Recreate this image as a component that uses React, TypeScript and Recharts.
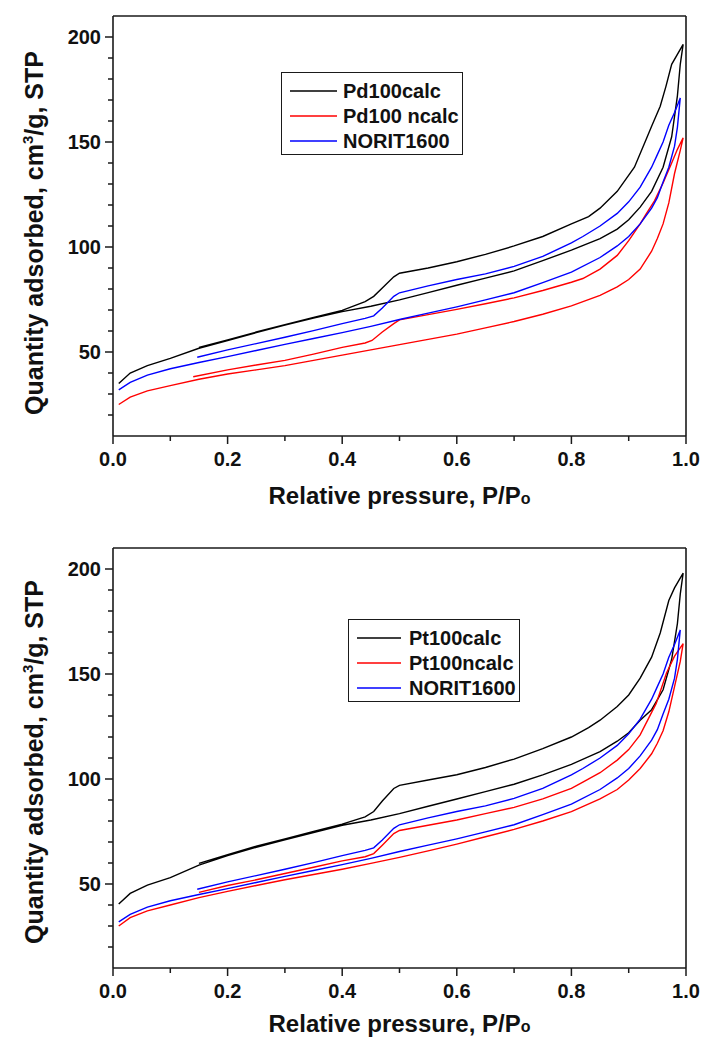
import React from 'react';
import { LineChart, Line, XAxis, YAxis, Legend, ReferenceLine } from 'recharts';

type Pt = [number, number];

// P/Po tick positions and quantity ticks
const pressureTicks = [0, 0.1, 0.2, 0.3, 0.4, 0.5, 0.6, 0.7, 0.8, 0.9, 1.0];
const quantityTicks = [20, 30, 40, 50, 60, 70, 80, 90, 100, 110, 120, 130, 140, 150, 160, 170, 180, 190, 200];
const quantityLabels = [50, 100, 150, 200];

// NORIT1600 (same sample in both panels): adsorption then desorption
const norit1600: Pt[] = [
  [0.01, 32], [0.03, 35.5], [0.06, 39], [0.1, 42], [0.15, 45], [0.2, 47.8], [0.25, 50.7], [0.3, 53.6],
  [0.35, 56.4], [0.4, 59.2], [0.45, 62.2], [0.5, 65.5], [0.55, 68.5], [0.6, 71.5], [0.65, 74.8], [0.7, 78.2],
  [0.75, 83], [0.8, 88], [0.85, 95], [0.88, 100.5], [0.9, 105], [0.92, 111], [0.94, 118.5], [0.95, 123.5],
  [0.96, 131], [0.97, 138], [0.98, 148], [0.985, 157], [0.99, 171],
  [0.98, 164], [0.97, 158], [0.96, 150], [0.95, 144], [0.94, 138], [0.92, 128.5], [0.9, 121.5], [0.88, 116],
  [0.85, 110], [0.82, 105], [0.8, 102], [0.75, 95.5], [0.7, 90.8], [0.65, 87.2], [0.6, 84.5], [0.55, 81.5],
  [0.5, 78.2], [0.49, 76.5], [0.47, 71], [0.455, 67.2], [0.44, 66], [0.4, 63.5], [0.35, 60.2], [0.3, 57],
  [0.25, 54], [0.2, 51], [0.147, 47.5],
];

const pd100calc: Pt[] = [
  [0.01, 35], [0.03, 40], [0.06, 43.5], [0.1, 47], [0.15, 51.8], [0.2, 55.5], [0.25, 59.2], [0.3, 62.8],
  [0.35, 66.2], [0.4, 69.2], [0.45, 71.8], [0.5, 74.8], [0.55, 78.3], [0.6, 81.8], [0.65, 85.2], [0.7, 88.6],
  [0.75, 93.5], [0.8, 98.5], [0.85, 104], [0.88, 108.5], [0.9, 113], [0.92, 119], [0.94, 126.5], [0.96, 138],
  [0.975, 152.5], [0.985, 172], [0.99, 187], [0.995, 196.5],
  [0.975, 187], [0.965, 176.5], [0.955, 167], [0.94, 157.5], [0.93, 151], [0.91, 138], [0.88, 126.5],
  [0.85, 118.5], [0.83, 114.5], [0.8, 111], [0.75, 105], [0.7, 100.5], [0.65, 96.5], [0.6, 93], [0.55, 90],
  [0.5, 87.5], [0.49, 85.8], [0.47, 80.5], [0.455, 76.5], [0.44, 74], [0.4, 69.8], [0.35, 66.5], [0.3, 63],
  [0.25, 59.5], [0.2, 55.8], [0.15, 52.2],
];

const pd100ncalc: Pt[] = [
  [0.01, 25], [0.03, 28.5], [0.06, 31.5], [0.1, 34], [0.15, 37], [0.2, 39.5], [0.25, 41.5], [0.3, 43.5],
  [0.35, 46], [0.4, 48.5], [0.45, 51], [0.5, 53.5], [0.55, 56], [0.6, 58.5], [0.65, 61.5], [0.7, 64.5],
  [0.75, 68], [0.8, 72], [0.85, 77], [0.88, 81], [0.9, 84.5], [0.92, 89.5], [0.94, 98], [0.95, 104],
  [0.96, 111], [0.97, 121], [0.98, 135], [0.99, 146], [0.995, 152],
  [0.985, 146.5], [0.975, 140], [0.96, 130.5], [0.945, 122], [0.93, 115.5], [0.92, 111], [0.9, 103],
  [0.88, 96], [0.85, 89.5], [0.82, 85], [0.8, 83.2], [0.75, 79.3], [0.7, 75.8], [0.65, 73], [0.6, 70.3],
  [0.55, 67.8], [0.5, 65.3], [0.49, 63.5], [0.47, 59.5], [0.452, 55.5], [0.44, 54.3], [0.4, 52.2],
  [0.35, 49], [0.3, 46], [0.25, 43.8], [0.2, 41.5], [0.14, 38.2],
];

const pt100calc: Pt[] = [
  [0.01, 40.5], [0.03, 45.5], [0.06, 49.5], [0.1, 53], [0.15, 59], [0.2, 63.5], [0.25, 67.5], [0.3, 71],
  [0.35, 74.5], [0.4, 78], [0.45, 80.5], [0.5, 83.5], [0.55, 87], [0.6, 90.5], [0.65, 94], [0.7, 97.5],
  [0.75, 102], [0.8, 107], [0.85, 113], [0.88, 118], [0.9, 122], [0.92, 128], [0.94, 133], [0.96, 142.5],
  [0.975, 157], [0.985, 174], [0.99, 188], [0.995, 198],
  [0.98, 191], [0.97, 185], [0.955, 169.5], [0.94, 158], [0.92, 148], [0.9, 140], [0.88, 134.5],
  [0.85, 128], [0.83, 124.5], [0.8, 120], [0.75, 114.5], [0.7, 109.5], [0.65, 105.5], [0.6, 102],
  [0.55, 99.5], [0.5, 97], [0.49, 95.5], [0.47, 89.5], [0.455, 84.5], [0.44, 82], [0.4, 78.5],
  [0.35, 75], [0.3, 71.5], [0.25, 68], [0.2, 64], [0.15, 59.8],
];

const pt100ncalc: Pt[] = [
  [0.01, 30], [0.03, 34], [0.06, 37.2], [0.1, 40], [0.15, 43.5], [0.2, 46.5], [0.25, 49.3], [0.3, 52],
  [0.35, 54.5], [0.4, 57], [0.45, 59.8], [0.5, 62.7], [0.55, 65.8], [0.6, 69], [0.65, 72.5], [0.7, 76],
  [0.75, 80], [0.8, 84.5], [0.85, 90.5], [0.88, 95], [0.9, 99.5], [0.92, 105], [0.94, 112], [0.95, 117],
  [0.96, 123], [0.97, 132], [0.98, 144], [0.99, 156], [0.995, 164.5],
  [0.98, 158.5], [0.966, 150.5], [0.948, 136], [0.92, 121], [0.9, 114], [0.88, 109], [0.85, 103],
  [0.82, 98.5], [0.8, 95.5], [0.75, 90.5], [0.7, 86.5], [0.65, 83.5], [0.6, 80.5], [0.55, 78], [0.5, 75.5],
  [0.49, 74], [0.47, 68.5], [0.455, 64.5], [0.44, 63], [0.4, 61], [0.35, 58], [0.3, 55], [0.25, 52],
  [0.2, 49.3], [0.15, 46],
];

const FONT = "'Liberation Sans', Arial, sans-serif";
const AXIS = '#1a1a1a';
const TEXT = '#111';

const CHART_W = 702;
const CHART_H = 520;
const PLOT_L = 113;
const PLOT_R = 686;
const PLOT_T = 16;
const PLOT_B = 436;

const toRows = (pts: Pt[]) => pts.map(([p, q]) => ({ p, q }));

interface Series {
  name: string;
  color: string;
  points: Pt[];
}

const XTick = (props: any) => {
  const { x, y, payload } = props;
  const v = payload.value as number;
  const major = Math.round(v * 10) % 2 === 0;
  return (
    <g>
      <line x1={x} x2={x} y1={y} y2={y + (major ? 8 : 5)} stroke={AXIS} strokeWidth={1.5} />
      {major && (
        <text x={x} y={y + 30} textAnchor="middle" fontSize={20} fontWeight="bold" fill={TEXT} fontFamily={FONT}>
          {v.toFixed(1)}
        </text>
      )}
    </g>
  );
};

const YTick = (props: any) => {
  const { x, y, payload } = props;
  const v = payload.value as number;
  const major = quantityLabels.includes(v);
  return (
    <g>
      <line x1={x} x2={x - (major ? 8 : 5)} y1={y} y2={y} stroke={AXIS} strokeWidth={1.5} />
      {major && (
        <text x={x - 12} y={y + 7} textAnchor="end" fontSize={20} fontWeight="bold" fill={TEXT} fontFamily={FONT}>
          {v}
        </text>
      )}
    </g>
  );
};

const XTitle = ({ drop }: { drop: number }) => (
  <text
    x={(PLOT_L + PLOT_R) / 2}
    y={PLOT_B + drop}
    textAnchor="middle"
    fontSize={24}
    fontWeight="bold"
    fill={TEXT}
    fontFamily={FONT}
  >
    Relative pressure, P/P<tspan fontSize={16}>o</tspan>
  </text>
);

const YTitle = ({ dyCenter }: { dyCenter: number }) => {
  const cx = 43;
  const cy = (PLOT_T + PLOT_B) / 2 + dyCenter;
  return (
    <text
      x={cx}
      y={cy}
      transform={`rotate(-90, ${cx}, ${cy})`}
      textAnchor="middle"
      fontSize={25}
      fontWeight="bold"
      fill={TEXT}
      fontFamily={FONT}
    >
      Quantity adsorbed, cm<tspan fontSize={15} dy={-10}>3</tspan>
      <tspan dy={10}>/g, STP</tspan>
    </text>
  );
};

const LegendBox = ({ series, width, lineLen, textX }: { series: Series[]; width: number; lineLen: number; textX: number }) => (
  <div
    style={{
      width,
      height: 83,
      boxSizing: 'border-box',
      border: `1.5px solid ${AXIS}`,
      background: '#fff',
      position: 'relative',
      fontFamily: FONT,
    }}
  >
    {series.map((s, i) => (
      <div key={s.name} style={{ position: 'absolute', left: 0, top: 18 + i * 25 - 12, height: 24, width: '100%' }}>
        <svg width={lineLen + 10} height={24} style={{ position: 'absolute', left: 8, top: 0 }}>
          <line x1={0} x2={lineLen} y1={12} y2={12} stroke={s.color} strokeWidth={1.5} />
        </svg>
        <span
          style={{
            position: 'absolute',
            left: textX,
            top: 0,
            lineHeight: '24px',
            fontSize: 20,
            fontWeight: 'bold',
            color: TEXT,
            whiteSpace: 'nowrap',
          }}
        >
          {s.name}
        </span>
      </div>
    ))}
  </div>
);

interface PanelProps {
  series: Series[];
  legendLeft: number;
  legendTop: number;
  legendWidth: number;
  lineLen: number;
  textX: number;
  titleShift: number;
  titleDrop: number;
}

const IsothermPanel: React.FC<PanelProps> = ({ series, legendLeft, legendTop, legendWidth, lineLen, textX, titleShift, titleDrop }) => (
  <LineChart width={CHART_W} height={CHART_H} margin={{ top: PLOT_T, right: CHART_W - PLOT_R, left: 0, bottom: 4 }}>
    <XAxis
      dataKey="p"
      type="number"
      domain={[0, 1]}
      ticks={pressureTicks}
      interval={0}
      tickSize={0}
      tickMargin={0}
      tickLine={false}
      tick={<XTick />}
      height={CHART_H - PLOT_B - 4}
      axisLine={{ stroke: AXIS, strokeWidth: 1.6 }}
      allowDataOverflow
      label={<XTitle drop={titleDrop} />}
    />
    <YAxis
      type="number"
      domain={[10, 210]}
      ticks={quantityTicks}
      interval={0}
      tickSize={0}
      tickMargin={0}
      tickLine={false}
      tick={<YTick />}
      width={PLOT_L}
      axisLine={{ stroke: AXIS, strokeWidth: 1.6 }}
      allowDataOverflow
      label={<YTitle dyCenter={titleShift} />}
    />
    {/* plot frame: top and right edges */}
    <ReferenceLine y={210} stroke={AXIS} strokeWidth={1.6} ifOverflow="extendDomain" />
    <ReferenceLine x={1} stroke={AXIS} strokeWidth={1.6} ifOverflow="extendDomain" />
    <Legend
      layout="vertical"
      align="center"
      verticalAlign="middle"
      wrapperStyle={{ position: 'absolute', left: legendLeft, top: legendTop, width: legendWidth, height: 83 }}
      content={() => <LegendBox series={series} width={legendWidth} lineLen={lineLen} textX={textX} />}
    />
    {series.map((s) => (
      <Line
        key={s.name}
        name={s.name}
        data={toRows(s.points)}
        dataKey="q"
        type="linear"
        stroke={s.color}
        strokeWidth={1.4}
        dot={false}
        activeDot={false}
        isAnimationActive={false}
      />
    ))}
  </LineChart>
);

const pdSeries: Series[] = [
  { name: 'Pd100calc', color: '#000000', points: pd100calc },
  { name: 'Pd100 ncalc', color: '#ff0000', points: pd100ncalc },
  { name: 'NORIT1600', color: '#0000ff', points: norit1600 },
];

const ptSeries: Series[] = [
  { name: 'Pt100calc', color: '#000000', points: pt100calc },
  { name: 'Pt100ncalc', color: '#ff0000', points: pt100ncalc },
  { name: 'NORIT1600', color: '#0000ff', points: norit1600 },
];

export default function App() {
  return (
    <div
      style={{
        position: 'fixed',
        left: 0,
        top: 0,
        width: 702,
        height: 1039,
        overflow: 'hidden',
        background: '#fff',
        fontFamily: FONT,
      }}
    >
      <div style={{ position: 'absolute', left: 0, top: 0 }}>
        <IsothermPanel
          series={pdSeries}
          legendLeft={281}
          legendTop={72}
          legendWidth={182}
          lineLen={47}
          textX={61}
          titleShift={7}
          titleDrop={68}
        />
      </div>
      <div style={{ position: 'absolute', left: 0, top: 532 }}>
        <IsothermPanel
          series={ptSeries}
          legendLeft={348}
          legendTop={87}
          legendWidth={172}
          lineLen={44}
          textX={60}
          titleShift={4}
          titleDrop={64}
        />
      </div>
    </div>
  );
}
